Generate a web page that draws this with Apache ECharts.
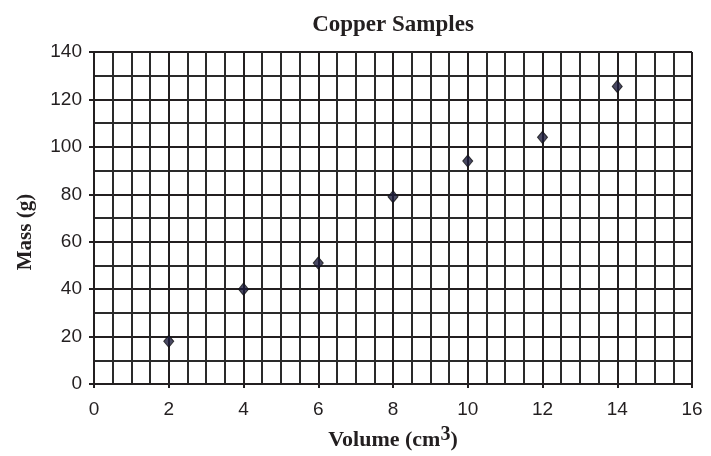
<!DOCTYPE html>
<html>
<head>
<meta charset="utf-8">
<script src="https://cdn.jsdelivr.net/npm/echarts@6/dist/echarts.min.js"></script>
<style>html,body{margin:0;padding:0;background:#fff;}#c{width:711px;height:456px;}</style>
</head>
<body>
<div id="c"></div>
<script>
var titleText = 'Copper Samples';
var xName = 'Volume (cm';
var yName = 'Mass (g)';
var volumes = [2, 4, 6, 8, 10, 12, 14];
var masses = [18, 40, 51, 79, 94, 104, 125.5];

var points = volumes.map(function (v, i) { return [v, masses[i]]; });
var chart = echarts.init(document.getElementById('c'), null, {renderer: 'canvas'});
var ink = '#231f20';
chart.setOption({
  animation: false,
  backgroundColor: '#fff',
  title: {
    text: titleText,
    left: 393, top: 14, textAlign: 'center', padding: 0,
    textStyle: {fontFamily: 'Liberation Serif', fontWeight: 'bold', fontSize: 23, color: ink}
  },
  grid: {left: 94, right: 19, top: 52, bottom: 66, containLabel: false},
  xAxis: {
    type: 'value', min: 0, max: 16, interval: 2,
    name: '{a|' + xName + '}{s|3}{a|)}',
    nameLocation: 'middle', nameGap: 41,
    nameTextStyle: {
      rich: {
        a: {fontFamily: 'Liberation Serif', fontWeight: 'bold', fontSize: 22, color: ink, lineHeight: 26, verticalAlign: 'bottom'},
        s: {fontFamily: 'Liberation Serif', fontWeight: 'bold', fontSize: 20, color: ink, lineHeight: 26, verticalAlign: 'top'}
      }
    },
    axisLine: {show: true, onZero: false, lineStyle: {color: ink, width: 2}},
    axisTick: {show: true, length: 4, lineStyle: {color: ink, width: 2}},
    axisLabel: {fontFamily: 'Liberation Sans', fontSize: 19, color: ink, margin: 16},
    splitLine: {show: true, lineStyle: {color: ink, width: 2}},
    minorTick: {show: false, splitNumber: 4},
    minorSplitLine: {show: true, lineStyle: {color: '#2a2a2a', width: 2}}
  },
  yAxis: {
    type: 'value', min: 0, max: 140, interval: 20,
    name: yName,
    nameLocation: 'middle', nameGap: 58,
    nameTextStyle: {fontFamily: 'Liberation Serif', fontWeight: 'bold', fontSize: 21, color: ink, padding: [0, 28, 0, 0]},
    axisLine: {show: true, onZero: false, lineStyle: {color: ink, width: 2}},
    axisTick: {show: true, length: 5, lineStyle: {color: ink, width: 2}},
    axisLabel: {fontFamily: 'Liberation Sans', fontSize: 19, color: ink, margin: 12},
    splitLine: {show: true, lineStyle: {color: ink, width: 2}},
    minorTick: {show: false, splitNumber: 2},
    minorSplitLine: {show: true, lineStyle: {color: '#2a2a2a', width: 2}}
  },
  series: [{
    type: 'scatter',
    data: points,
    symbol: 'diamond',
    symbolSize: [10, 12],
    itemStyle: {color: '#1c1c3c', borderColor: '#111', borderWidth: 1},
    z: 5
  }]
});
</script>
</body>
</html>
